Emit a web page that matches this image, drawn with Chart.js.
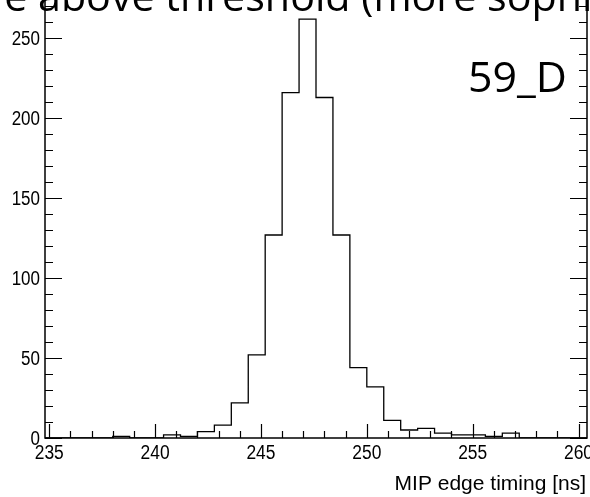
<!DOCTYPE html>
<html>
<head>
<meta charset="utf-8">
<script src="https://cdn.jsdelivr.net/npm/chart.js@4/dist/chart.umd.min.js"></script>
<style>
  html, body { margin: 0; padding: 0; background: #fff; }
  #wrap { width: 590px; height: 497px; }
</style>
</head>
<body>
<div id="wrap"><canvas id="histo" width="590" height="497"></canvas></div>
<script>
// histogram: 32 bins of 0.8 ns starting at 234.8 ns
const binLow = 234.8;
const binWidth = 0.8;
const counts = [0, 0, 0, 0, 1, 0, 0, 2, 1, 4, 8, 22, 52, 127, 216, 262,
                213, 127, 44, 32, 11, 5, 6, 3, 2, 2, 1, 3, 0, 0, 0, 0];
const xTicks = [235, 240, 245, 250, 255, 260];
const yTicks = [0, 50, 100, 150, 200, 250];
const xTitle = 'MIP edge timing [ns]';
const slideText = 'e above threshold (more sophi';
const tag = '59_D';

const xMin = binLow;
const xMax = binLow + counts.length * binWidth;

// step outline points: left edge of each bin, plus the closing right edge
const outline = counts.map((c, i) => ({ x: binLow + i * binWidth, y: c }));
outline.push({ x: xMax, y: counts[counts.length - 1] });

function txt(ctx, s, x, y, font, align, sx) {
    ctx.save();
    ctx.font = font;
    ctx.textAlign = align;
    ctx.textBaseline = 'alphabetic';
    ctx.fillStyle = '#000';
    ctx.translate(x, y);
    ctx.scale(sx, 1);
    ctx.fillText(s, 0, 0);
    ctx.restore();
}

const rootAxes = {
    id: 'rootAxes',
    afterDraw(chart) {
        const ctx = chart.ctx;
        const a = chart.chartArea;
        const xs = chart.scales.x, ys = chart.scales.y;
        ctx.save();
        ctx.strokeStyle = '#000';

        // frame (top edge is outside the picture)
        ctx.lineWidth = 1.5;
        ctx.beginPath();
        ctx.moveTo(a.left, a.top);
        ctx.lineTo(a.left, a.bottom);
        ctx.lineTo(a.right, a.bottom);
        ctx.lineTo(a.right, a.top);
        ctx.stroke();

        // x ticks, pointing up into the frame
        ctx.lineWidth = 1.2;
        ctx.beginPath();
        for (let v = 235; v <= 260; v++) {
            const px = Math.round(xs.getPixelForValue(v)) + 0.5;
            const len = v % 5 === 0 ? 14 : 7;
            ctx.moveTo(px, a.bottom);
            ctx.lineTo(px, a.bottom - len);
        }
        // y ticks on both sides
        for (let v = 0; v <= 270; v += 10) {
            const py = Math.round(ys.getPixelForValue(v)) + 0.5;
            const len = v % 50 === 0 ? 17 : 8;
            ctx.moveTo(a.left, py);
            ctx.lineTo(a.left + len, py);
            ctx.moveTo(a.right, py);
            ctx.lineTo(a.right - len, py);
        }
        ctx.stroke();

        const lab = '20px "Liberation Sans", Arial, sans-serif';
        xTicks.forEach(v => {
            txt(ctx, String(v), xs.getPixelForValue(v), a.bottom + 21, lab, 'center', 0.87);
        });
        yTicks.forEach(v => {
            txt(ctx, String(v), 40, ys.getPixelForValue(v) + 7, lab, 'right', 0.85);
        });
        txt(ctx, xTitle, 586, 490, '21px "Liberation Sans", Arial, sans-serif', 'right', 1);

        // slide text overlapping the plot
        const big = '40px "Open Sans", "DejaVu Sans", sans-serif';
        ctx.font = big;
        const wLead = ctx.measureText('e ').width;
        const wMid = ctx.measureText('above threshold (more ').width;
        const sx = (487 - 38) / wMid;
        txt(ctx, slideText, 38 - wLead * sx, 11, big, 'left', sx);

        ctx.font = '42px "Open Sans", "DejaVu Sans", sans-serif';
        const wTag = ctx.measureText(tag).width;
        txt(ctx, tag, 468, 92, '42px "Open Sans", "DejaVu Sans", sans-serif', 'left', (567 - 468) / wTag);
        ctx.restore();
    }
};

new Chart(document.querySelector('#histo'), {
    type: 'line',
    data: {
        datasets: [{
            data: outline,
            stepped: 'before',
            borderColor: '#000',
            borderWidth: 1.3,
            pointRadius: 0,
            fill: false
        }]
    },
    options: {
        responsive: false,
        animation: false,
        layout: { padding: { left: 45, right: 3, top: 0, bottom: 59 } },
        plugins: { legend: { display: false }, tooltip: { enabled: false } },
        scales: {
            x: { type: 'linear', min: xMin, max: xMax, display: false },
            y: { min: 0, max: 274, display: false }
        }
    },
    plugins: [rootAxes]
});
</script>
</body>
</html>
